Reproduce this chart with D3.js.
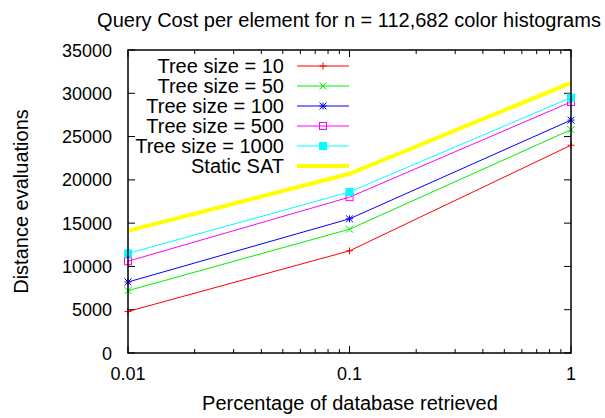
<!DOCTYPE html>
<html><head><meta charset="utf-8">
<script src="https://cdn.jsdelivr.net/npm/d3@7"></script>
<style>body{margin:0;background:#fff}svg{display:block;font-family:"Liberation Sans",Arial,sans-serif}</style>
</head><body><svg id="c" width="605" height="418"></svg>
<script>
const xValues = [0.01, 0.1, 1];
const seriesNames = ["Tree size = 10","Tree size = 50","Tree size = 100","Tree size = 500","Tree size = 1000","Static SAT"];
const tree10 = [4800, 11800, 24000];
const tree50 = [7200, 14300, 25800];
const tree100 = [8200, 15500, 26900];
const tree500 = [10600, 18000, 29000];
const tree1000 = [11500, 18600, 29500];
const staticSAT = [14100, 20700, 31200];
const yTicks = [0,5000,10000,15000,20000,25000,30000,35000];
const xTicks = [0.01, 0.1, 1];
const xTickLabels = ["0.01","0.1","1"];

const colors = ["#ff0000","#00ee00","#0000ff","#ff00ff","#00ffff","#ffff00"];
const markers = ["plus","cross","star","square","fsquare",null];
const widths = [1,1,1,1,1,4];
const allSeries = [tree10,tree50,tree100,tree500,tree1000,staticSAT];

const svg = d3.select("#c");
const L=128, R=571, T=50, B=353;
const x = d3.scaleLog().domain([0.01,1]).range([L,R]);
const y = d3.scaleLinear().domain([0,35000]).range([B,T]);

// title
svg.append("text").attr("x",349).attr("y",27).attr("text-anchor","middle").attr("font-size",20).text("Query Cost per element for n = 112,682 color histograms");

// y ticks
yTicks.forEach(v=>{
  svg.append("line").attr("x1",L).attr("x2",L+7).attr("y1",y(v)).attr("y2",y(v)).attr("stroke","#000");
  svg.append("line").attr("x1",R).attr("x2",R-7).attr("y1",y(v)).attr("y2",y(v)).attr("stroke","#000");
  svg.append("text").attr("x",112).attr("y",y(v)+6.5).attr("text-anchor","end").attr("font-size",18).text(v);
});
// x ticks
const minor=[];
[0.01,0.1].forEach(d=>{for(let k=2;k<=9;k++)minor.push(d*k);});
minor.forEach(v=>{
  svg.append("line").attr("x1",x(v)).attr("x2",x(v)).attr("y1",B).attr("y2",B-4).attr("stroke","#000");
  svg.append("line").attr("x1",x(v)).attr("x2",x(v)).attr("y1",T).attr("y2",T+4).attr("stroke","#000");
});
xTicks.forEach((v,i)=>{
  svg.append("line").attr("x1",x(v)).attr("x2",x(v)).attr("y1",B).attr("y2",B-7).attr("stroke","#000");
  svg.append("line").attr("x1",x(v)).attr("x2",x(v)).attr("y1",T).attr("y2",T+7).attr("stroke","#000");
  svg.append("text").attr("x",x(v)).attr("y",380).attr("text-anchor","middle").attr("font-size",18).text(xTickLabels[i]);
});
// axis labels
svg.append("text").attr("x",350).attr("y",410).attr("text-anchor","middle").attr("font-size",20).text("Percentage of database retrieved");
svg.append("text").attr("transform","translate(28,201.5) rotate(-90)").attr("text-anchor","middle").attr("font-size",20).text("Distance evaluations");

function marker(g,type,cx,cy,col){
  const s=3.5;
  if(type==="plus"){
    g.append("path").attr("d",`M${cx-s},${cy}H${cx+s}M${cx},${cy-s}V${cy+s}`).attr("stroke",col).attr("fill","none");
  } else if(type==="cross"){
    g.append("path").attr("d",`M${cx-s},${cy-s}L${cx+s},${cy+s}M${cx-s},${cy+s}L${cx+s},${cy-s}`).attr("stroke",col).attr("fill","none");
  } else if(type==="star"){
    g.append("path").attr("d",`M${cx-s},${cy}H${cx+s}M${cx},${cy-s}V${cy+s}M${cx-s},${cy-s}L${cx+s},${cy+s}M${cx-s},${cy+s}L${cx+s},${cy-s}`).attr("stroke",col).attr("fill","none");
  } else if(type==="square"){
    g.append("rect").attr("x",cx-s).attr("y",cy-s).attr("width",2*s).attr("height",2*s).attr("stroke",col).attr("fill","none");
  } else if(type==="fsquare"){
    g.append("rect").attr("x",cx-s-0.5).attr("y",cy-s-0.5).attr("width",2*s+1).attr("height",2*s+1).attr("fill",col);
  }
}

const line = d3.line().x((d,i)=>x(xValues[i])).y(d=>y(d));
allSeries.forEach((s,k)=>{
  const g = svg.append("g");
  g.append("path").datum(s).attr("d",line).attr("fill","none").attr("stroke",colors[k]).attr("stroke-width",widths[k]);
  if(markers[k]) s.forEach((v,i)=>marker(g,markers[k],x(xValues[i]),y(v),colors[k]));
  // legend
  const ly = 66 + k*20;
  svg.append("text").attr("x",284).attr("y",ly+7).attr("text-anchor","end").attr("font-size",20).text(seriesNames[k]);
  g.append("line").attr("x1",297).attr("x2",349).attr("y1",ly).attr("y2",ly).attr("stroke",colors[k]).attr("stroke-width",widths[k]);
  if(markers[k]) marker(g,markers[k],323,ly,colors[k]);
});

// border
svg.append("rect").attr("x",L).attr("y",T).attr("width",R-L).attr("height",B-T).attr("fill","none").attr("stroke","#000").attr("stroke-width",1.5);
</script></body></html>
